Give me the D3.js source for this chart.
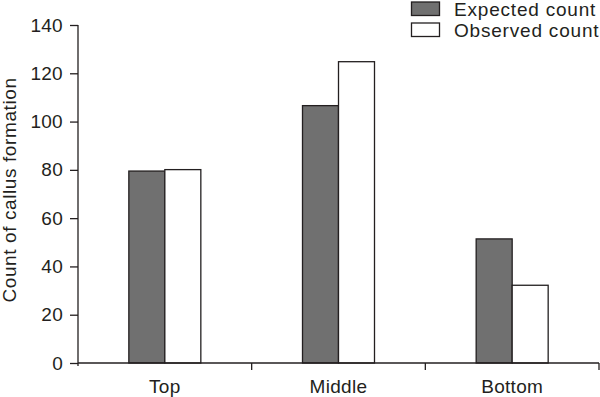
<!DOCTYPE html>
<html><head><meta charset="utf-8">
<script src="https://cdn.jsdelivr.net/npm/d3@7"></script>
<style>body{margin:0;background:#fff}svg{display:block}text{font-family:"Liberation Sans",Arial,sans-serif;fill:#231f20}</style>
</head><body><svg id="c" width="600" height="397"></svg>
<script>
const categories = ["Top", "Middle", "Bottom"];
const seriesNames = ["Expected count", "Observed count"];
const expected = [79.5, 106.6, 51.4];
const observed = [80.1, 124.8, 32.2];
const yTicks = [0, 20, 40, 60, 80, 100, 120, 140];
const yTitle = "Count of callus formation";

const ink = "#231f20";
const colors = ["#707070", "#ffffff"];
const svg = d3.select("#c");
const fs = "19px";

const y = d3.scaleLinear().domain([0, 140]).range([363, 25]);
const x = d3.scaleBand().domain(categories).range([78, 599]).padding(0);
const bw = x.bandwidth();
const x1 = d3.scaleBand().domain(seriesNames).range([bw / 2 - 36, bw / 2 + 36]).padding(0);

const data = categories.map((c, i) => ({c, vals: [expected[i], observed[i]]}));

// bars
const g = svg.append("g");
data.forEach(d => {
  seriesNames.forEach((s, j) => {
    g.append("rect")
      .attr("x", x(d.c) + x1(s))
      .attr("y", y(d.vals[j]))
      .attr("width", x1.bandwidth())
      .attr("height", y(0) - y(d.vals[j]))
      .attr("fill", colors[j])
      .attr("stroke", ink)
      .attr("stroke-width", 1.3);
  });
});

// y axis
const yAxis = d3.axisLeft(y).tickValues(yTicks).tickSize(8).tickPadding(7).tickFormat(d3.format("d"));
const ya = svg.append("g").attr("transform", "translate(78,0)").call(yAxis);
ya.select(".domain").remove();
ya.selectAll(".tick line").attr("stroke", ink).attr("stroke-width", 1.3);
ya.selectAll(".tick text").style("font-size", fs).attr("fill", ink).style("letter-spacing", "0.3px");
svg.append("line").attr("x1", 78).attr("x2", 78).attr("y1", y(140)).attr("y2", y(0) + 3)
  .attr("stroke", ink).attr("stroke-width", 1.3);

// x axis
svg.append("line").attr("x1", 78).attr("x2", 599).attr("y1", y(0)).attr("y2", y(0))
  .attr("stroke", ink).attr("stroke-width", 1.3);
categories.forEach(c => {
  const bx = x(c) + bw;
  svg.append("line").attr("x1", bx).attr("x2", bx).attr("y1", y(0)).attr("y2", y(0) + 7)
    .attr("stroke", ink).attr("stroke-width", 1.3);
  svg.append("text").attr("x", x(c) + bw / 2).attr("y", 393).attr("text-anchor", "middle")
    .style("font-size", fs).style("letter-spacing", "0.3px").text(c);
});

// y title
svg.append("text").attr("transform", "translate(15.5,190) rotate(-90)")
  .attr("text-anchor", "middle").style("font-size", fs).style("letter-spacing", "0.6px").text(yTitle);

// legend
seriesNames.forEach((s, j) => {
  const ly = 2 + j * 21;
  svg.append("rect").attr("x", 411.5).attr("y", ly).attr("width", 28).attr("height", 13.5)
    .attr("fill", colors[j]).attr("stroke", ink).attr("stroke-width", 1.3);
  svg.append("text").attr("x", 454).attr("y", ly + 13.5).style("font-size", fs)
    .style("letter-spacing", "0.8px").text(s);
});
</script></body></html>
